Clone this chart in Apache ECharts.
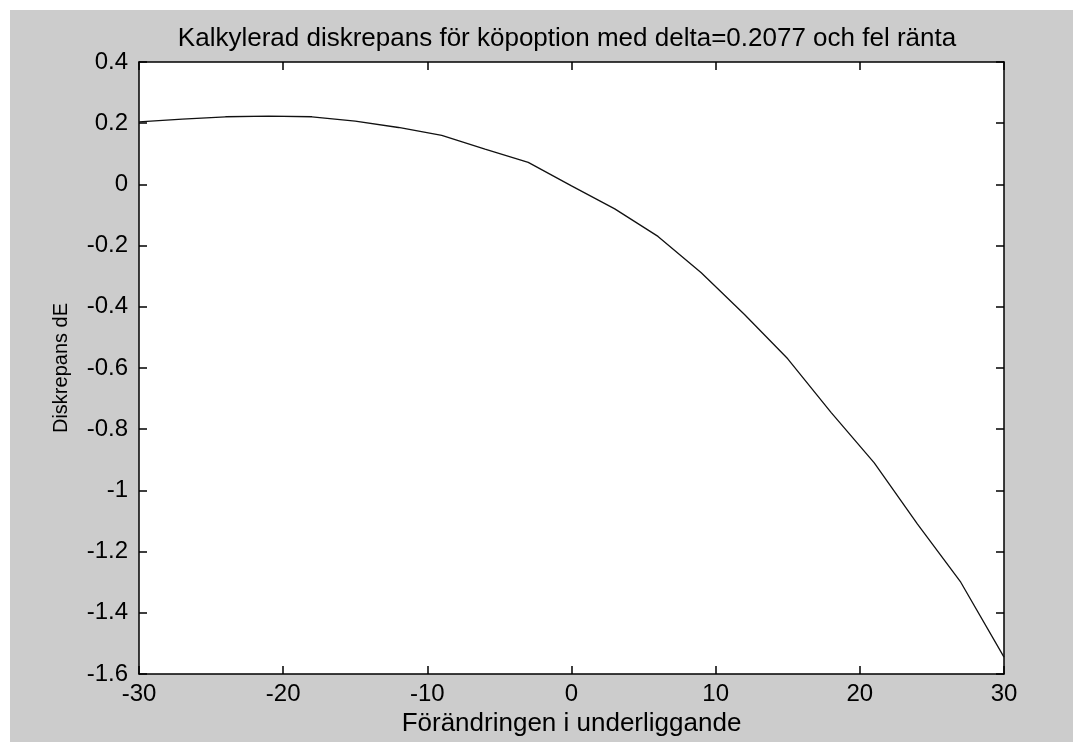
<!DOCTYPE html>
<html>
<head>
<meta charset="utf-8">
<title>Kalkylerad diskrepans</title>
<script src="https://cdn.jsdelivr.net/npm/echarts@6/dist/echarts.min.js"></script>
<style>
  html, body { margin: 0; padding: 0; background: #ffffff; }
  #chart { width: 1073px; height: 742px; }
</style>
</head>
<body>
<div id="chart"></div>
<script>
// Change in the underlying (x) and the calculated discrepancy dE (y)
const underlyingChange = [-30, -27, -24, -21, -18, -15, -12, -9, -6, -3, 0, 3, 6, 9, 12, 15, 18, 21, 24, 27, 30];
const discrepancy = [0.204, 0.213, 0.221, 0.223, 0.221, 0.207, 0.186, 0.160, 0.115, 0.072, -0.005,
                     -0.080, -0.170, -0.289, -0.425, -0.570, -0.745, -0.910, -1.110, -1.300, -1.545];

const xTicks = { min: -30, max: 30, interval: 10 };
const yTicks = { min: -1.6, max: 0.4, interval: 0.2 };

const titleText = 'Kalkylerad diskrepans för köpoption med delta=0.2077 och fel ränta';
const xName = 'Förändringen i underliggande';
const yName = 'Diskrepans dE';

const FONT = 'Liberation Sans, Arial, sans-serif';

const chart = echarts.init(document.getElementById('chart'), null, { renderer: 'canvas' });

const points = underlyingChange.map((x, i) => [x, discrepancy[i]]);

const axisLine = { show: true, onZero: false, lineStyle: { color: '#000', width: 1.5 } };
const axisTick = { show: true, inside: true, length: 8, lineStyle: { color: '#000', width: 1.5 } };

chart.setOption({
  animation: false,
  backgroundColor: '#cccccc',
  // thin white strips along the top and left edges of the figure
  graphic: [{
    type: 'rect', z: -10, silent: true,
    shape: { x: 0, y: 0, width: 1073, height: 10 },
    style: { fill: '#ffffff' }
  }, {
    type: 'rect', z: -10, silent: true,
    shape: { x: 0, y: 0, width: 10, height: 742 },
    style: { fill: '#ffffff' }
  }],
  title: {
    text: titleText,
    left: 562,
    textAlign: 'center',
    top: 21,
    textStyle: { fontFamily: FONT, fontSize: 26, fontWeight: 'normal', color: '#000' }
  },
  grid: { left: 139, top: 62, right: 69, bottom: 68, show: true, backgroundColor: '#ffffff', borderWidth: 0 },
  xAxis: [{
    type: 'value',
    min: xTicks.min, max: xTicks.max, interval: xTicks.interval,
    position: 'bottom',
    name: xName,
    nameLocation: 'middle',
    nameGap: 32,
    nameTextStyle: { fontFamily: FONT, fontSize: 26, color: '#000' },
    axisLine, axisTick,
    axisLabel: { fontFamily: FONT, fontSize: 24, color: '#000', margin: 8 },
    splitLine: { show: false }
  }, {
    type: 'value',
    min: xTicks.min, max: xTicks.max, interval: xTicks.interval,
    position: 'top',
    axisLine, axisTick,
    axisLabel: { show: false },
    splitLine: { show: false }
  }],
  yAxis: [{
    type: 'value',
    min: yTicks.min, max: yTicks.max, interval: yTicks.interval,
    position: 'left',
    name: yName,
    nameLocation: 'middle',
    nameGap: 68,
    nameTextStyle: { fontFamily: FONT, fontSize: 20, color: '#000' },
    axisLine, axisTick,
    axisLabel: { fontFamily: FONT, fontSize: 24, color: '#000', margin: 11 },
    splitLine: { show: false }
  }, {
    type: 'value',
    min: yTicks.min, max: yTicks.max, interval: yTicks.interval,
    position: 'right',
    axisLine, axisTick,
    axisLabel: { show: false },
    splitLine: { show: false }
  }],
  series: [{
    type: 'line',
    data: points,
    xAxisIndex: 0,
    yAxisIndex: 0,
    showSymbol: false,
    smooth: false,
    lineStyle: { color: '#111', width: 1.3 }
  }]
});
</script>
</body>
</html>
